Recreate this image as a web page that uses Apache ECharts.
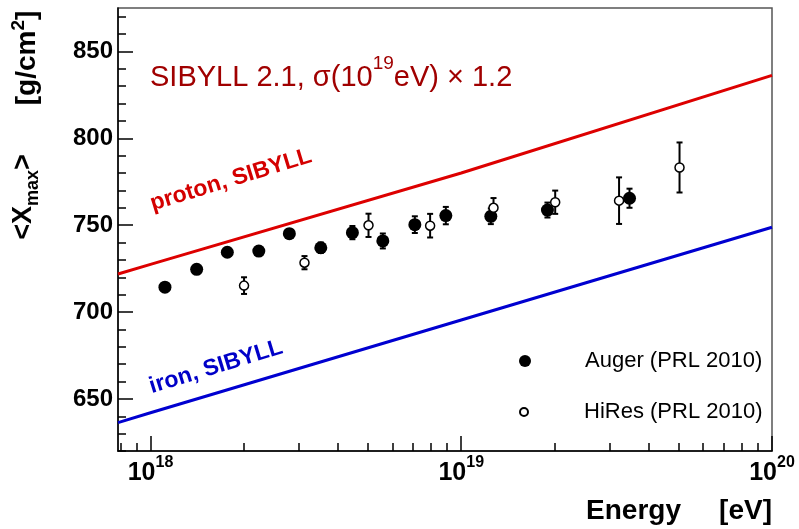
<!DOCTYPE html>
<html>
<head>
<meta charset="utf-8">
<script src="https://cdn.jsdelivr.net/npm/echarts@6/dist/echarts.min.js"></script>
<style>
  html, body { margin: 0; padding: 0; background: #fff; }
  #chart { width: 799px; height: 529px; }
</style>
</head>
<body>
<div id="chart"></div>
<script>
// Auger (PRL 2010) - energy [eV], <Xmax> [g/cm2], stat. error
const augerE = [1.113e18, 1.408e18, 1.767e18, 2.231e18, 2.798e18, 3.532e18, 4.464e18,
                5.593e18, 7.09e18, 8.92e18, 1.245e19, 1.894e19, 3.479e19]
const augerXmax = [714.3, 724.6, 734.4, 735.1, 745.1, 737.0, 745.7,
                   740.9, 750.3, 755.5, 755.1, 758.7, 765.5]
const augerErr = [2, 2, 2, 2, 2.5, 3, 3.8, 4.3, 4.8, 5, 4.5, 4.3, 5.5]

// HiRes (PRL 2010)
const hiresE = [2.0e18, 3.13e18, 5.03e18, 7.94e18, 1.27e19, 2.006e19, 3.22e19, 5.04e19]
const hiresXmax = [715.2, 728.4, 749.9, 749.7, 760.0, 763.2, 764.1, 783.2]
const hiresErr = [4.8, 3.8, 6.7, 6.8, 5.6, 6.7, 13.4, 14.4]

// SIBYLL 2.1 predictions
const modelE = [7.86e17, 1e18, 1e19, 1e20]
const protonXmax = [721.9, 727.4, 780, 836.2]
const ironXmax = [636.3, 642, 695.4, 748.8]

// axes
const xMin = 7.86e17
const xMax = 1e20
const yMin = 620
const yMax = 875
const xMajorTicks = [1e18, 1e19, 1e20]
const xMinorTicks = [8e17, 9e17, 2e18, 3e18, 4e18, 5e18, 6e18, 7e18, 8e18, 9e18,
                     2e19, 3e19, 4e19, 5e19, 6e19, 7e19, 8e19, 9e19]
const yMajorTicks = [650, 700, 750, 800, 850]
const yMinorTicks = [620, 630, 640, 660, 670, 680, 690, 710, 720, 730, 740,
                     760, 770, 780, 790, 810, 820, 830, 840, 860, 870]

const font = '"Liberation Sans", Arial, Helvetica, sans-serif'

function pairs(xs, ys) {
  return xs.map((x, i) => [x, ys[i]])
}
function withErr(xs, ys, es) {
  return xs.map((x, i) => [x, ys[i], es[i]])
}

function renderErrorBar(params, api) {
  const x = api.value(0)
  const y = api.value(1)
  const e = api.value(2)
  const hi = api.coord([x, y + e])
  const lo = api.coord([x, y - e])
  const c = 3
  const style = { stroke: '#000', lineWidth: 2 }
  return {
    type: 'group',
    children: [
      { type: 'line', shape: { x1: hi[0], y1: hi[1], x2: lo[0], y2: lo[1] }, style: style },
      { type: 'line', shape: { x1: hi[0] - c, y1: hi[1], x2: hi[0] + c, y2: hi[1] }, style: style },
      { type: 'line', shape: { x1: lo[0] - c, y1: lo[1], x2: lo[0] + c, y2: lo[1] }, style: style }
    ]
  }
}

const tickLine = { color: '#000', width: 1.5 }

let option = {
  animation: false,
  backgroundColor: '#fff',
  grid: {
    left: 118,
    right: 27,
    top: 8,
    bottom: 78,
    show: true,
    borderColor: '#555',
    borderWidth: 1.5
  },
  xAxis: [
    {
      type: 'log',
      logBase: 10,
      min: xMin,
      max: xMax,
      position: 'bottom',
      axisLine: { show: true, lineStyle: { color: '#000', width: 1.5 } },
      axisTick: { show: true, inside: true, length: 8, customValues: xMinorTicks, lineStyle: tickLine },
      axisLabel: { show: false },
      splitLine: { show: false },
      minorTick: { show: false }
    },
    {
      type: 'log',
      logBase: 10,
      min: xMin,
      max: xMax,
      position: 'bottom',
      axisLine: { show: false },
      axisTick: { show: true, inside: true, length: 15, customValues: xMajorTicks, lineStyle: tickLine },
      axisLabel: {
        customValues: xMajorTicks,
        margin: 4,
        formatter: function (v) {
          return '{b|10}{s|' + Math.round(Math.log10(v)) + '}'
        },
        rich: {
          b: { fontFamily: font, fontWeight: 'bold', fontSize: 25, color: '#000', lineHeight: 31, verticalAlign: 'bottom' },
          s: { fontFamily: font, fontWeight: 'bold', fontSize: 16, color: '#000', lineHeight: 18, verticalAlign: 'top' }
        }
      },
      splitLine: { show: false }
    }
  ],
  yAxis: [
    {
      type: 'value',
      min: yMin,
      max: yMax,
      axisLine: { show: true, lineStyle: { color: '#000', width: 1.5 } },
      axisTick: { show: true, inside: true, length: 8, customValues: yMinorTicks, lineStyle: tickLine },
      axisLabel: { show: false },
      splitLine: { show: false }
    },
    {
      type: 'value',
      min: yMin,
      max: yMax,
      position: 'left',
      axisLine: { show: false },
      axisTick: { show: true, inside: true, length: 15, customValues: yMajorTicks, lineStyle: tickLine },
      axisLabel: {
        customValues: yMajorTicks,
        margin: 5,
        fontFamily: font,
        fontWeight: 'bold',
        fontSize: 24,
        color: '#000'
      },
      splitLine: { show: false }
    }
  ],
  legend: [
    {
      data: ['Auger (PRL 2010)'],
      left: 514,
      top: 345,
      itemWidth: 110,
      itemHeight: 12,
      icon: 'circle',
      selectedMode: false,
      textStyle: { fontFamily: font, fontSize: 22, color: '#000' }
    },
    {
      data: ['HiRes (PRL 2010)'],
      left: 514,
      top: 396,
      itemWidth: 110,
      itemHeight: 8,
      icon: 'circle',
      selectedMode: false,
      textStyle: { fontFamily: font, fontSize: 22, color: '#000' }
    }
  ],
  graphic: [
    {
      type: 'text', x: 24, y: 197, rotation: Math.PI / 2,
      style: {
        text: '{b|<X}{sub|max}{b|>}',
        align: 'center', verticalAlign: 'middle',
        rich: {
          b: { font: 'bold 27px ' + font, fill: '#000', lineHeight: 36, verticalAlign: 'middle' },
          sub: { font: 'bold 18px ' + font, fill: '#000', lineHeight: 18, verticalAlign: 'bottom' }
        }
      }
    },
    {
      type: 'text', x: 27, y: 58, rotation: Math.PI / 2,
      style: {
        text: '{b|[g/cm}{sup|2}{b|]}',
        align: 'center', verticalAlign: 'middle',
        rich: {
          b: { font: 'bold 28px ' + font, fill: '#000', lineHeight: 36, verticalAlign: 'middle' },
          sup: { font: 'bold 19px ' + font, fill: '#000', lineHeight: 18, verticalAlign: 'top' }
        }
      }
    },
    {
      type: 'text', x: 681, y: 511,
      style: { text: 'Energy', font: 'bold 28px ' + font, fill: '#000', align: 'right', verticalAlign: 'middle' }
    },
    {
      type: 'text', x: 772, y: 511,
      style: { text: '[eV]', font: 'bold 28px ' + font, fill: '#000', align: 'right', verticalAlign: 'middle' }
    },
    {
      type: 'text', x: 150, y: 73,
      style: {
        text: '{a|SIBYLL 2.1, σ(10}{s|19}{a|eV) × 1.2}',
        align: 'left', verticalAlign: 'middle',
        rich: {
          a: { font: '29px ' + font, fill: '#a00000', lineHeight: 38, verticalAlign: 'bottom' },
          s: { font: '19px ' + font, fill: '#a00000', lineHeight: 18, verticalAlign: 'top' }
        }
      }
    },
    {
      type: 'text', x: 231, y: 180, rotation: 17 * Math.PI / 180,
      style: { text: 'proton, SIBYLL', font: 'bold 23px ' + font, fill: '#d40000', align: 'center', verticalAlign: 'middle' }
    },
    {
      type: 'text', x: 216, y: 367, rotation: 17 * Math.PI / 180,
      style: { text: 'iron, SIBYLL', font: 'bold 23px ' + font, fill: '#0000c8', align: 'center', verticalAlign: 'middle' }
    }
  ],
  series: [
    {
      name: 'proton',
      type: 'line',
      data: pairs(modelE, protonXmax),
      showSymbol: false,
      lineStyle: { color: '#dd0000', width: 3 },
      itemStyle: { color: '#dd0000' },
      z: 1
    },
    {
      name: 'iron',
      type: 'line',
      data: pairs(modelE, ironXmax),
      showSymbol: false,
      lineStyle: { color: '#0000d0', width: 3 },
      itemStyle: { color: '#0000d0' },
      z: 1
    },
    {
      name: 'auger-err',
      type: 'custom',
      data: withErr(augerE, augerXmax, augerErr),
      renderItem: renderErrorBar,
      z: 2
    },
    {
      name: 'hires-err',
      type: 'custom',
      data: withErr(hiresE, hiresXmax, hiresErr),
      renderItem: renderErrorBar,
      z: 2
    },
    {
      name: 'Auger (PRL 2010)',
      type: 'scatter',
      data: pairs(augerE, augerXmax),
      symbol: 'circle',
      symbolSize: 13,
      itemStyle: { color: '#000', opacity: 1 },
      z: 3
    },
    {
      name: 'HiRes (PRL 2010)',
      type: 'scatter',
      data: pairs(hiresE, hiresXmax),
      symbol: 'circle',
      symbolSize: 9,
      itemStyle: { color: '#fff', borderColor: '#000', borderWidth: 1.5, opacity: 1 },
      z: 4
    }
  ]
}

const chart = echarts.init(document.getElementById('chart'))
chart.setOption(option)
</script>
</body>
</html>
